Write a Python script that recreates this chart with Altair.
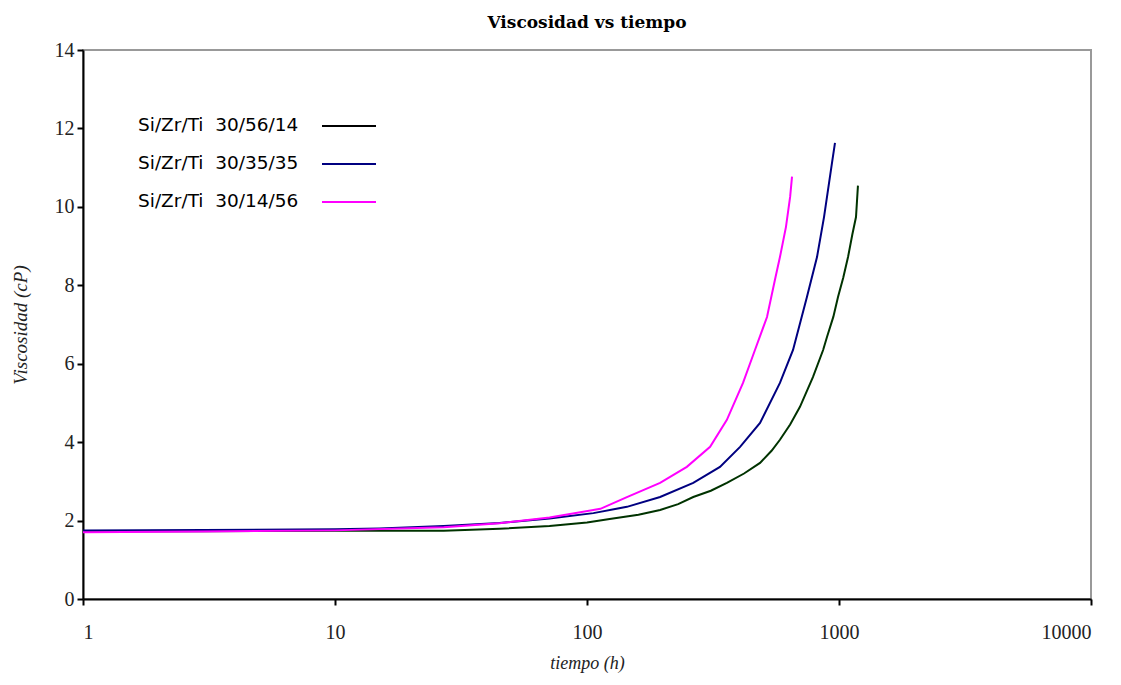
import altair as alt
import pandas as pd

names = ["Si/Zr/Ti\u00a0\u00a030/56/14", "Si/Zr/Ti\u00a0\u00a030/35/35", "Si/Zr/Ti\u00a0\u00a030/14/56"]
line_colors = ["#003300", "#000080", "#FF00FF"]
legend_colors = ["#000000", "#000080", "#FF00FF"]

t_a = [1, 3, 10, 27, 45, 71, 100, 123, 160, 195, 230, 264, 310, 359, 420, 486, 540, 583, 640, 700, 788, 865, 896, 950, 991, 1040, 1086, 1130, 1168, 1189]
v_a = [1.72, 1.73, 1.74, 1.74, 1.79, 1.86, 1.95, 2.04, 2.15, 2.27, 2.42, 2.60, 2.76, 2.96, 3.20, 3.47, 3.78, 4.06, 4.45, 4.90, 5.66, 6.35, 6.68, 7.20, 7.70, 8.20, 8.72, 9.30, 9.74, 10.54]

t_b = [1, 3, 10, 15, 27, 45, 71, 106, 144, 195, 264, 337, 405, 486, 583, 657, 746, 818, 872, 938, 964]
v_b = [1.75, 1.76, 1.78, 1.80, 1.86, 1.94, 2.05, 2.19, 2.35, 2.60, 2.96, 3.37, 3.88, 4.49, 5.51, 6.35, 7.70, 8.72, 9.74, 11.12, 11.63]

t_c = [1, 3, 10, 27, 45, 71, 113, 144, 195, 249, 308, 359, 416, 464, 518, 557, 583, 616, 640, 651]
v_c = [1.70, 1.72, 1.75, 1.83, 1.93, 2.08, 2.30, 2.60, 2.96, 3.37, 3.88, 4.57, 5.51, 6.35, 7.19, 8.14, 8.72, 9.49, 10.26, 10.77]

x_ticks = [1, 10, 100, 1000, 10000]
y_ticks = [0, 2, 4, 6, 8, 10, 12, 14]

rows = []
for i, (ts, vs) in enumerate([(t_a, v_a), (t_b, v_b), (t_c, v_c)]):
    for k, (t, v) in enumerate(zip(ts, vs)):
        rows.append({"serie": names[i], "t": t, "v": v, "o": k})
df = pd.DataFrame(rows)

serif = "Liberation Serif"

lines = alt.Chart(df).mark_line(strokeWidth=2).encode(
    x=alt.X("t:Q", scale=alt.Scale(type="log", domain=[1, 10000]),
            axis=alt.Axis(values=x_ticks, format="d", title="tiempo (h)",
                          grid=False, domainColor="black", domainWidth=2,
                          tickColor="black", tickWidth=2, tickSize=6,
                          labelFont=serif, labelFontSize=20, labelColor="#222",
                          labelPadding=17, titleFont=serif, titleFontSize=18,
                          titleFontStyle="italic", titleFontWeight="normal",
                          titleColor="#222", titlePadding=12)),
    y=alt.Y("v:Q", scale=alt.Scale(domain=[0, 14]),
            axis=alt.Axis(values=y_ticks, title="Viscosidad (cP)", grid=False,
                          domainColor="black", domainWidth=2, tickColor="black",
                          tickWidth=2, tickSize=6, labelFont=serif, labelFontSize=20,
                          labelColor="#222", labelPadding=3, titleFont=serif,
                          titleFontSize=19, titleFontStyle="italic",
                          titleFontWeight="normal", titleColor="#222", titlePadding=24)),
    color=alt.Color("serie:N", scale=alt.Scale(domain=names, range=line_colors), legend=None),
    order="o:Q",
    detail="serie:N",
)

layers = [lines]
leg_df = pd.DataFrame({"name": names, "color": legend_colors})
for i in range(3):
    d = leg_df.iloc[[i]]
    layers.append(alt.Chart(d).mark_text(align="left", baseline="middle", font="DejaVu Sans",
                                          fontSize=18.5, color="black").encode(
        x=alt.value(55), y=alt.value(75 + 38 * i), text="name:N"))
    layers.append(alt.Chart(d).mark_rule(strokeWidth=2, color=legend_colors[i]).encode(
        x=alt.value(239), x2=alt.value(293), y=alt.value(76 + 38 * i)))

chart = alt.layer(*layers).properties(
    width=1008, height=549,
    title=alt.Title("Viscosidad vs tiempo", font="DejaVu Serif", fontSize=17, fontWeight="bold",
                    color="black", offset=8),
    autosize=alt.AutoSizeParams(type="none"),
    padding={"left": 75, "top": 42, "right": 22, "bottom": 78},
).configure_view(stroke="#999999", strokeWidth=2)

chart.save("out.html", embed_options={"renderer": "svg", "actions": False})
